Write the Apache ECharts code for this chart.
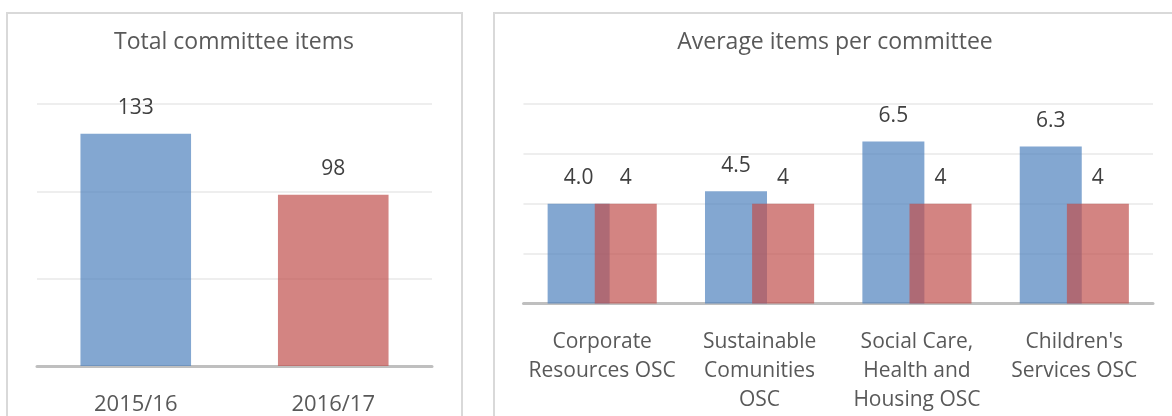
<!DOCTYPE html>
<html>
<head>
<meta charset="utf-8">
<title>Committee items</title>
<script src="https://cdn.jsdelivr.net/npm/echarts@6/dist/echarts.min.js"></script>
<style>
    html, body { margin: 0; padding: 0; background: #fff; }
    #chart { width: 1172px; height: 416px; }
</style>
</head>
<body>
<div id="chart"></div>
<script>
// data
var years = ['2015/16', '2016/17'];
var totalItems = [133, 98];

var committees = ['Corporate\nResources OSC', 'Sustainable\nComunities\nOSC', 'Social Care,\nHealth and\nHousing OSC', "Children's\nServices OSC"];
var avg1516 = [4.0, 4.5, 6.5, 6.3];
var avg1617 = [4, 4, 4, 4];

var blue = 'rgba(79, 129, 189, 0.7)';
var red = 'rgba(192, 80, 77, 0.7)';
var font = '"Open Sans", sans-serif';
var textGrey = '#595959';
var labelGrey = '#404040';

var myChart = echarts.init(document.getElementById('chart'));

function valueLabel(fmt) {
    return {
        show: true,
        position: 'top',
        distance: 15,
        fontSize: 21,
        lineHeight: 21,
        color: labelGrey,
        fontFamily: font,
        formatter: fmt
    };
}

function catAxis(idx, cats, size) {
    return {
        type: 'category',
        gridIndex: idx,
        data: cats,
        axisLine: { lineStyle: { color: '#BFBFBF', width: 3 } },
        axisTick: { show: false },
        axisLabel: {
            interval: 0,
            margin: 24,
            fontSize: size,
            lineHeight: 29,
            color: textGrey,
            fontFamily: font
        }
    };
}

function valAxis(idx, max, step) {
    return {
        type: 'value',
        gridIndex: idx,
        min: 0,
        max: max,
        interval: step,
        axisLabel: { show: false },
        axisLine: { show: false },
        axisTick: { show: false },
        splitLine: { lineStyle: { color: '#EEEEEE', width: 2 } }
    };
}

var titleStyle = { fontFamily: font, fontSize: 23, fontWeight: 'normal', color: textGrey };

myChart.setOption({
    animation: false,
    title: [
        { text: 'Total committee items', left: 234, top: 31, padding: 0, textAlign: 'center', textVerticalAlign: 'top', textStyle: titleStyle },
        { text: 'Average items per committee', left: 835, top: 31, padding: 0, textAlign: 'center', textVerticalAlign: 'top', textStyle: titleStyle }
    ],
    graphic: [
        { type: 'rect', silent: true, z: -10, shape: { x: 7, y: 13, width: 455, height: 440 }, style: { fill: 'transparent', stroke: '#D9D9D9', lineWidth: 2 } },
        { type: 'rect', silent: true, z: -10, shape: { x: 494, y: 13, width: 720, height: 440 }, style: { fill: 'transparent', stroke: '#D9D9D9', lineWidth: 2 } }
    ],
    grid: [
        { left: 37, right: 740, top: 104, bottom: 50, outerBoundsMode: 'none' },
        { left: 523.5, right: 19, top: 104, bottom: 112.5, outerBoundsMode: 'none' }
    ],
    xAxis: [catAxis(0, years, 22), catAxis(1, committees, 21)],
    yAxis: [valAxis(0, 150, 50), valAxis(1, 8, 2)],
    series: [
        {
            type: 'bar',
            xAxisIndex: 0,
            yAxisIndex: 0,
            barWidth: '56%',
            data: totalItems.map(function (v, i) {
                return { value: v, itemStyle: { color: i == 0 ? blue : red } };
            }),
            label: valueLabel(),
            emphasis: { disabled: true }
        },
        {
            name: '2015/16',
            type: 'bar',
            xAxisIndex: 1,
            yAxisIndex: 1,
            barWidth: '39.4%',
            barGap: '-24%',
            itemStyle: { color: blue },
            data: avg1516,
            label: valueLabel(function (p) { return p.value.toFixed(1); }),
            emphasis: { disabled: true }
        },
        {
            name: '2016/17',
            type: 'bar',
            xAxisIndex: 1,
            yAxisIndex: 1,
            barWidth: '39.4%',
            barGap: '-24%',
            itemStyle: { color: red },
            data: avg1617,
            label: valueLabel(),
            emphasis: { disabled: true }
        }
    ]
});
</script>
</body>
</html>
